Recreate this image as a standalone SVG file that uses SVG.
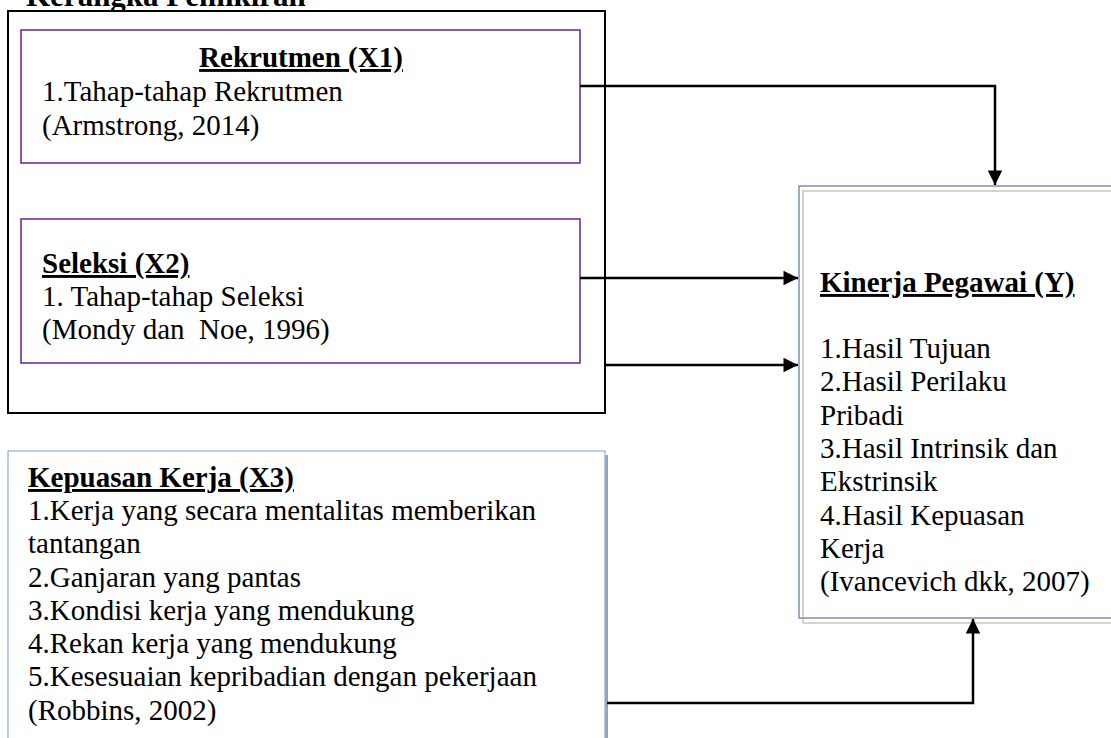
<svg xmlns="http://www.w3.org/2000/svg" width="1111" height="738" viewBox="0 0 1111 738">
<defs>
<marker id="ah" viewBox="0 0 10 10" refX="10" refY="5" markerWidth="6.4" markerHeight="5.8" markerUnits="strokeWidth" orient="auto">
<path d="M0,0 L10,5 L0,10 Z" fill="#000"/>
</marker>
<style>
text{font-family:"Liberation Serif","Times New Roman",serif;font-size:29px;fill:#000}
.b{font-weight:bold}
.u{text-decoration:underline}
.conn{fill:none;stroke:#000;stroke-width:2.5}
.purple{fill:#fff;stroke:#7030A0;stroke-width:1.6}
</style>
</defs>
<rect width="1111" height="738" fill="#fff"/>
<text class="b" x="26" y="6" style="font-size:31px">Kerangka Pemikiran</text>
<g id="frame">
<rect x="8" y="11" width="597" height="402" fill="#fff" stroke="#000" stroke-width="2"/>
</g>
<g id="x1">
<rect class="purple" x="21" y="30" width="559" height="133"/>
<text class="b u" x="301" y="67" text-anchor="middle">Rekrutmen (X1)</text>
<text x="42" y="101">1.Tahap-tahap Rekrutmen</text>
<text x="42" y="135">(Armstrong, 2014)</text>
</g>
<g id="x2">
<rect class="purple" x="21" y="219" width="559" height="144"/>
<text class="b u" x="42" y="273">Seleksi (X2)</text>
<text x="42" y="306">1. Tahap-tahap Seleksi</text>
<text x="42" y="339" xml:space="preserve">(Mondy dan  Noe, 1996)</text>
</g>
<g id="x3">
<rect x="11" y="455" width="597" height="300" fill="#8EA6C4"/>
<rect x="8" y="451" width="597" height="300" fill="#fff" stroke="#93AECF" stroke-width="1.2"/>
<text class="b u" x="28" y="487">Kepuasan Kerja (X3)</text>
<text x="28" y="520">1.Kerja yang secara mentalitas memberikan</text>
<text x="28" y="553">tantangan</text>
<text x="28" y="587">2.Ganjaran yang pantas</text>
<text x="28" y="620">3.Kondisi kerja yang mendukung</text>
<text x="28" y="653">4.Rekan kerja yang mendukung</text>
<text x="28" y="686">5.Kesesuaian kepribadian dengan pekerjaan</text>
<text x="28" y="720">(Robbins, 2002)</text>
</g>
<g id="y">
<rect x="799" y="186" width="330" height="432" fill="#fff"/>
<rect x="803" y="191" width="330" height="432" fill="none" stroke="#C6C7B6" stroke-width="1.5"/>
<rect x="799" y="186" width="330" height="432" fill="none" stroke="#7F93AD" stroke-width="1.5"/>
<text class="b u" x="820" y="292">Kinerja Pegawai (Y)</text>
<text x="820" y="358">1.Hasil Tujuan</text>
<text x="820" y="391">2.Hasil Perilaku</text>
<text x="820" y="425">Pribadi</text>
<text x="820" y="458">3.Hasil Intrinsik dan</text>
<text x="820" y="491">Ekstrinsik</text>
<text x="820" y="525">4.Hasil Kepuasan</text>
<text x="820" y="558">Kerja</text>
<text x="820" y="591">(Ivancevich dkk, 2007)</text>
</g>
<g id="connectors">
<path class="conn" d="M580,86 H995 V185" marker-end="url(#ah)"/>
<path class="conn" d="M580,278 H798" marker-end="url(#ah)"/>
<path class="conn" d="M605,365 H798" marker-end="url(#ah)"/>
<path class="conn" d="M607,703 H973 V619" marker-end="url(#ah)"/>
</g>
</svg>
